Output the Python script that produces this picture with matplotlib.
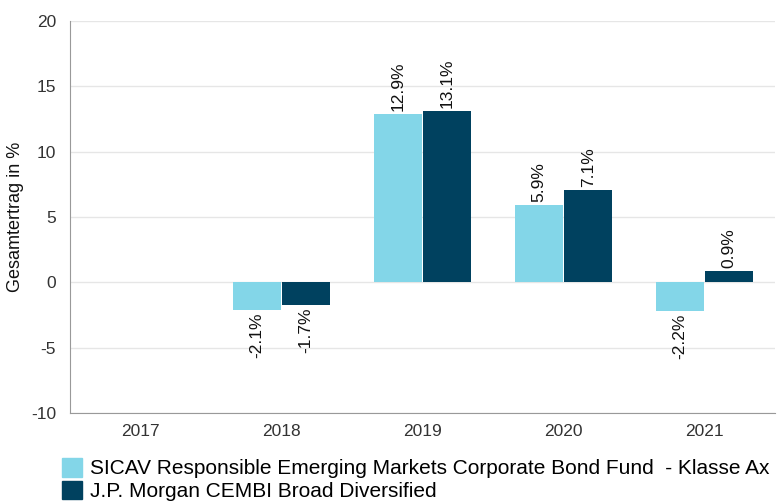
import numpy as np
import matplotlib.pyplot as plt

plt.rcParams['font.family'] = ['Liberation Sans', 'DejaVu Sans']
plt.rcParams['axes.unicode_minus'] = False

years = ['2017', '2018', '2019', '2020', '2021']
fund = [np.nan, -2.1, 12.9, 5.9, -2.2]
bench = [np.nan, -1.7, 13.1, 7.1, 0.9]
names = ['SICAV Responsible Emerging Markets Corporate Bond Fund  - Klasse Ax',
         'J.P. Morgan CEMBI Broad Diversified']
colors = ['#83d6e8', '#00415f']

fig = plt.figure(figsize=(7.82, 5.01), dpi=100)
ax = fig.add_axes([70 / 782, 88 / 501, 705 / 782, 392 / 501])

x = np.arange(len(years))
w = 0.35
for i, (vals, col) in enumerate(zip([fund, bench], colors)):
    pos = x + (i - 0.5) * w
    ax.bar(pos, vals, width=w - 0.01, color=col, zorder=2)
    for p, v in zip(pos, vals):
        if np.isnan(v):
            continue
        off = 1.0 if v >= 0 else -1.0
        ax.annotate(f'{v:.1f}%', (p, v), xytext=(0, 2 * off),
                    textcoords='offset points', rotation=90,
                    ha='center', va='bottom' if v >= 0 else 'top',
                    fontsize=12.5, color='#111111')

ax.set_xlim(-0.5, len(years) - 0.5)
ax.set_ylim(-10, 20)
ax.set_yticks(range(-10, 25, 5))
ax.set_xticks(x)
ax.set_xticklabels(years)
ax.set_ylabel('Gesamtertrag in %', fontsize=13, color='#111111')
ax.yaxis.set_label_coords(-46 / 705, 0.5)
ax.tick_params(length=0, labelsize=12.5, colors='#333333')
ax.tick_params(axis='x', pad=8)
ax.tick_params(axis='y', pad=10)
ax.grid(axis='y', color='#e6e6e6', lw=1, zorder=0)
for s in ['top', 'right']:
    ax.spines[s].set_visible(False)
for s in ['left', 'bottom']:
    ax.spines[s].set_color('#999999')

handles = [plt.Rectangle((0, 0), 1, 1, color=c) for c in colors]
fig.legend(handles, names, loc='lower left', bbox_to_anchor=(62 / 782, 0.0),
           frameon=False, fontsize=15, handlelength=0.95, handleheight=1.0,
           handletextpad=0.4, labelspacing=0.1, borderpad=0, borderaxespad=0)

fig.savefig('out.png', dpi=100)
